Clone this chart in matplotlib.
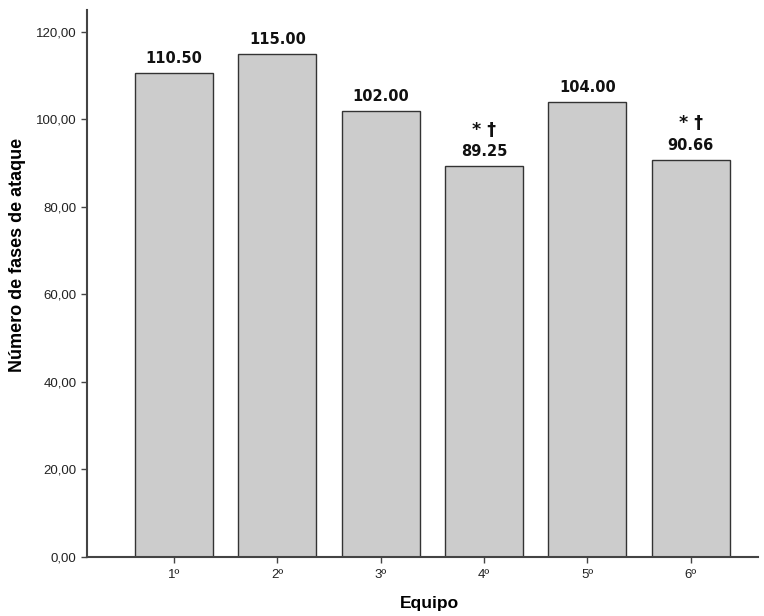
import numpy as np
import matplotlib.pyplot as plt

equipos = ["1º", "2º", "3º", "4º", "5º", "6º"]
fases = [110.50, 115.00, 102.00, 89.25, 104.00, 90.66]
marcas = ["", "", "", "* †", "", "* †"]

plt.rcParams['font.family'] = ['Liberation Sans', 'DejaVu Sans']

fig = plt.figure(figsize=(7.64, 6.16), dpi=100)
ax = fig.add_axes([0.114, 0.096, 0.878, 0.888])

x = np.arange(len(equipos))
ax.bar(x, fases, width=0.755, color="#cccccc", edgecolor="#333333", linewidth=1.0, zorder=2)

# etiquetas de valor y marcas de significacion
for xi, v, m in zip(x, fases, marcas):
    ax.annotate("%.2f" % v, (xi, v), xytext=(0, 5), textcoords="offset points",
                ha="center", va="bottom", fontsize=10.5, fontweight="bold", color="#111111",
                family=['DejaVu Sans'])
    if m:
        ax.annotate(m, (xi, v), xytext=(0, 20), textcoords="offset points",
                    ha="center", va="bottom", fontsize=12.5, fontweight="bold", color="#111111",
                    family=['DejaVu Sans'])

ax.set_xlim(-0.84, 5.65)
ax.set_ylim(0, 125)
ax.set_yticks(np.arange(0, 121, 20))
ax.set_yticklabels(["%d,00" % t for t in np.arange(0, 121, 20)], fontsize=9.5)
ax.set_xticks(x)
ax.set_xticklabels(equipos, fontsize=9.5)

for s in ["top", "right"]:
    ax.spines[s].set_visible(False)
for s in ["left", "bottom"]:
    ax.spines[s].set_color("#444444")
    ax.spines[s].set_linewidth(1.5)
ax.tick_params(axis="both", colors="#444444", labelcolor="#222222", length=4, width=1)
ax.tick_params(axis="x", pad=5)

ax.set_xlabel("Equipo", fontsize=12.5, fontweight="bold")
ax.set_ylabel("Número de fases de ataque", fontsize=13, fontweight="bold")
ax.xaxis.set_label_coords(0.511, -0.071)
ax.yaxis.set_label_coords(-0.091, 0.552)

fig.savefig("out.png", dpi=100)
